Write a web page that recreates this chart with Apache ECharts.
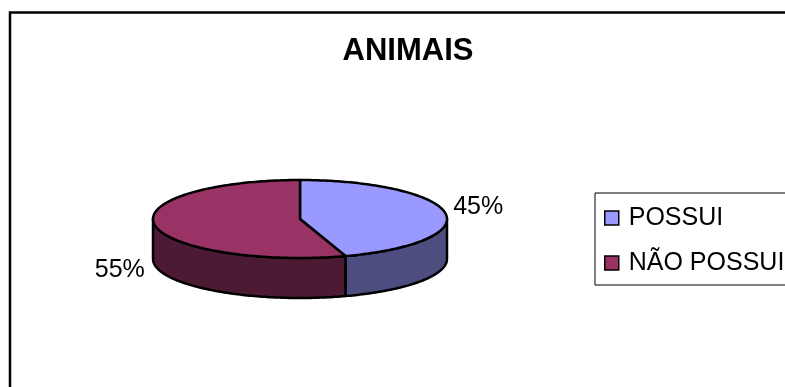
<!DOCTYPE html>
<html>
<head>
<meta charset="utf-8">
<script src="https://cdn.jsdelivr.net/npm/echarts@6/dist/echarts.min.js"></script>
<style>
  html, body { margin: 0; padding: 0; background: #fff; }
  #chart { width: 785px; height: 387px; }
</style>
</head>
<body>
<div id="chart"></div>
<script>
// Household survey: share of respondents who keep animals
const categories = ['POSSUI', 'NÃO POSSUI'];
const values = [45, 55];
const topColors = ['#9999FF', '#993366'];
const sideColors = ['#4D4D80', '#4D1A33'];

// Tilted pie geometry (ellipse centre, radii and wall thickness)
const pie = { cx: 300, cy: 219, rx: 147, ry: 39, depth: 40 };

const total = values.reduce((a, b) => a + b, 0);

function pt(deg, dy) {
  const r = deg * Math.PI / 180;
  return [pie.cx + pie.rx * Math.sin(r), pie.cy - pie.ry * Math.cos(r) + (dy || 0)];
}

function arc(a0, a1, dy) {
  const pts = [];
  const n = Math.max(2, Math.ceil(Math.abs(a1 - a0)));
  for (let i = 0; i <= n; i++) pts.push(pt(a0 + (a1 - a0) * i / n, dy));
  return pts;
}

function renderSlice(params, api) {
  const idx = params.seriesIndex;
  const value = api.value(0);
  let before = 0;
  for (let i = 0; i < idx; i++) before += values[i];
  const a0 = before / total * 360;
  const a1 = a0 + value / total * 360;
  const children = [];
  const stroke = { stroke: '#000', lineWidth: 2.5, lineJoin: 'round' };

  // front wall: only the part of the rim facing the viewer (90..270 deg)
  const s0 = Math.max(a0, 90), s1 = Math.min(a1, 270);
  if (s1 > s0) {
    const pts = arc(s0, s1, 0).concat(arc(s1, s0, pie.depth));
    children.push({
      type: 'polygon',
      shape: { points: pts },
      style: Object.assign({ fill: sideColors[idx] }, stroke)
    });
  }

  // top face
  const topPts = [[pie.cx, pie.cy]].concat(arc(a0, a1, 0));
  children.push({
    type: 'polygon',
    shape: { points: topPts },
    style: Object.assign({ fill: topColors[idx] }, stroke)
  });

  // percentage label beside the slice
  const mid = (a0 + a1) / 2;
  const m = pt(mid, 0);
  const lower = Math.cos(mid * Math.PI / 180) < 0;
  const right = Math.sin(mid * Math.PI / 180) > 0;
  children.push({
    type: 'text',
    x: right ? m[0] + 8 : m[0] - 10,
    y: m[1] + (lower ? pie.depth + 5 : -6),
    style: {
      text: Math.round(value / total * 100) + '%',
      fontFamily: 'Liberation Sans, Arial, sans-serif',
      fontSize: 25,
      fill: '#000',
      align: right ? 'left' : 'right',
      verticalAlign: 'middle'
    }
  });

  return { type: 'group', children: children };
}

const chart = echarts.init(document.getElementById('chart'), null, { renderer: 'canvas' });

chart.setOption({
  backgroundColor: '#fff',
  animation: false,
  title: {
    text: 'ANIMAIS',
    left: 403,
    top: 31,
    textAlign: 'center',
    textStyle: {
      fontFamily: 'Liberation Sans, Arial, sans-serif',
      fontWeight: 'bold',
      fontSize: 31,
      color: '#000'
    }
  },
  legend: {
    data: categories,
    orient: 'vertical',
    left: 595,
    top: 193,
    icon: 'rect',
    itemWidth: 14,
    itemHeight: 14,
    itemGap: 19,
    padding: [12, 2, 9, 9],
    borderColor: '#000',
    borderWidth: 1,
    itemStyle: { borderColor: '#000', borderWidth: 1.5 },
    textStyle: {
      fontFamily: 'Liberation Sans, Arial, sans-serif',
      fontSize: 25,
      lineHeight: 26,
      color: '#000',
      padding: [0, 0, 0, 5]
    }
  },
  graphic: [{
    type: 'rect',
    shape: { x: 10, y: 12.5, width: 800, height: 400 },
    style: { fill: 'none', stroke: '#000', lineWidth: 2.5 },
    silent: true
  }],
  series: categories.map((name, i) => ({
    type: 'custom',
    name: name,
    coordinateSystem: 'none',
    color: topColors[i],
    renderItem: renderSlice,
    data: [values[i]]
  }))
});
</script>
</body>
</html>
